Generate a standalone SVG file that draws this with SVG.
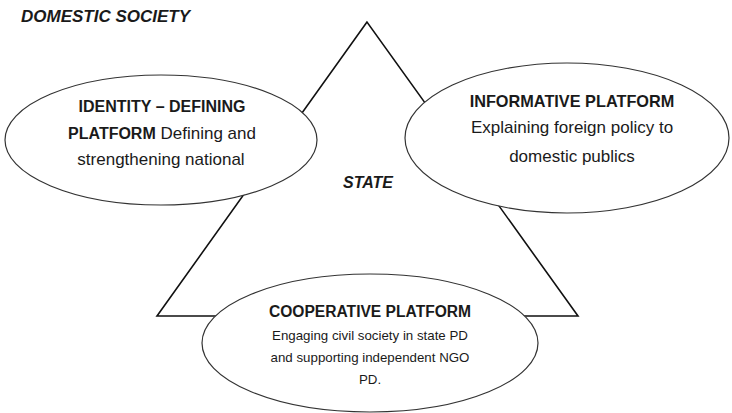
<svg xmlns="http://www.w3.org/2000/svg" width="732" height="413" viewBox="0 0 732 413">
<style>
.bg{fill:#fff}
.tri{fill:#fff;stroke:#111;stroke-width:1.6;stroke-linejoin:miter}
.ell{fill:#fff;stroke:#333;stroke-width:1.2}
text{font-family:"Liberation Sans",Arial,sans-serif;fill:#1a1a1a;text-anchor:middle}
.b{font-weight:bold}
.bi{font-weight:bold;font-style:italic}
.tb{font-size:16px}
.tr{font-size:17px}
.t13{font-size:13.3px}
</style>
<rect class="bg" width="732" height="413"/>
<g id="society">
<text class="bi" x="21" y="22" style="text-anchor:start;font-size:17px">DOMESTIC SOCIETY</text>
</g>
<g id="state">
<polygon class="tri" points="367,22 157,316 578,316"/>
<text class="bi" x="368" y="188" style="font-size:16px">STATE</text>
</g>
<g id="identity">
<ellipse class="ell" cx="161" cy="140" rx="156" ry="65"/>
<text class="tb b" x="162" y="112">IDENTITY – DEFINING</text>
<text class="tr" x="162" y="139"><tspan class="b" style="font-size:16px">PLATFORM</tspan> Defining and</text>
<text class="tr" x="161" y="165">strengthening national</text>
</g>
<g id="informative">
<ellipse class="ell" cx="567" cy="138" rx="162" ry="75"/>
<text class="b" x="572" y="107" style="font-size:16.3px">INFORMATIVE PLATFORM</text>
<text class="tr" x="572" y="133">Explaining foreign policy to</text>
<text class="tr" x="572" y="162">domestic publics</text>
</g>
<g id="cooperative">
<ellipse class="ell" cx="370" cy="343" rx="168" ry="69"/>
<text class="b" x="370" y="317" style="font-size:15.6px">COOPERATIVE PLATFORM</text>
<text class="t13" x="370" y="340">Engaging civil society in state PD</text>
<text class="t13" x="370" y="362">and supporting independent NGO</text>
<text class="t13" x="370" y="384">PD.</text>
</g>
<g id="connectors"/>
</svg>
